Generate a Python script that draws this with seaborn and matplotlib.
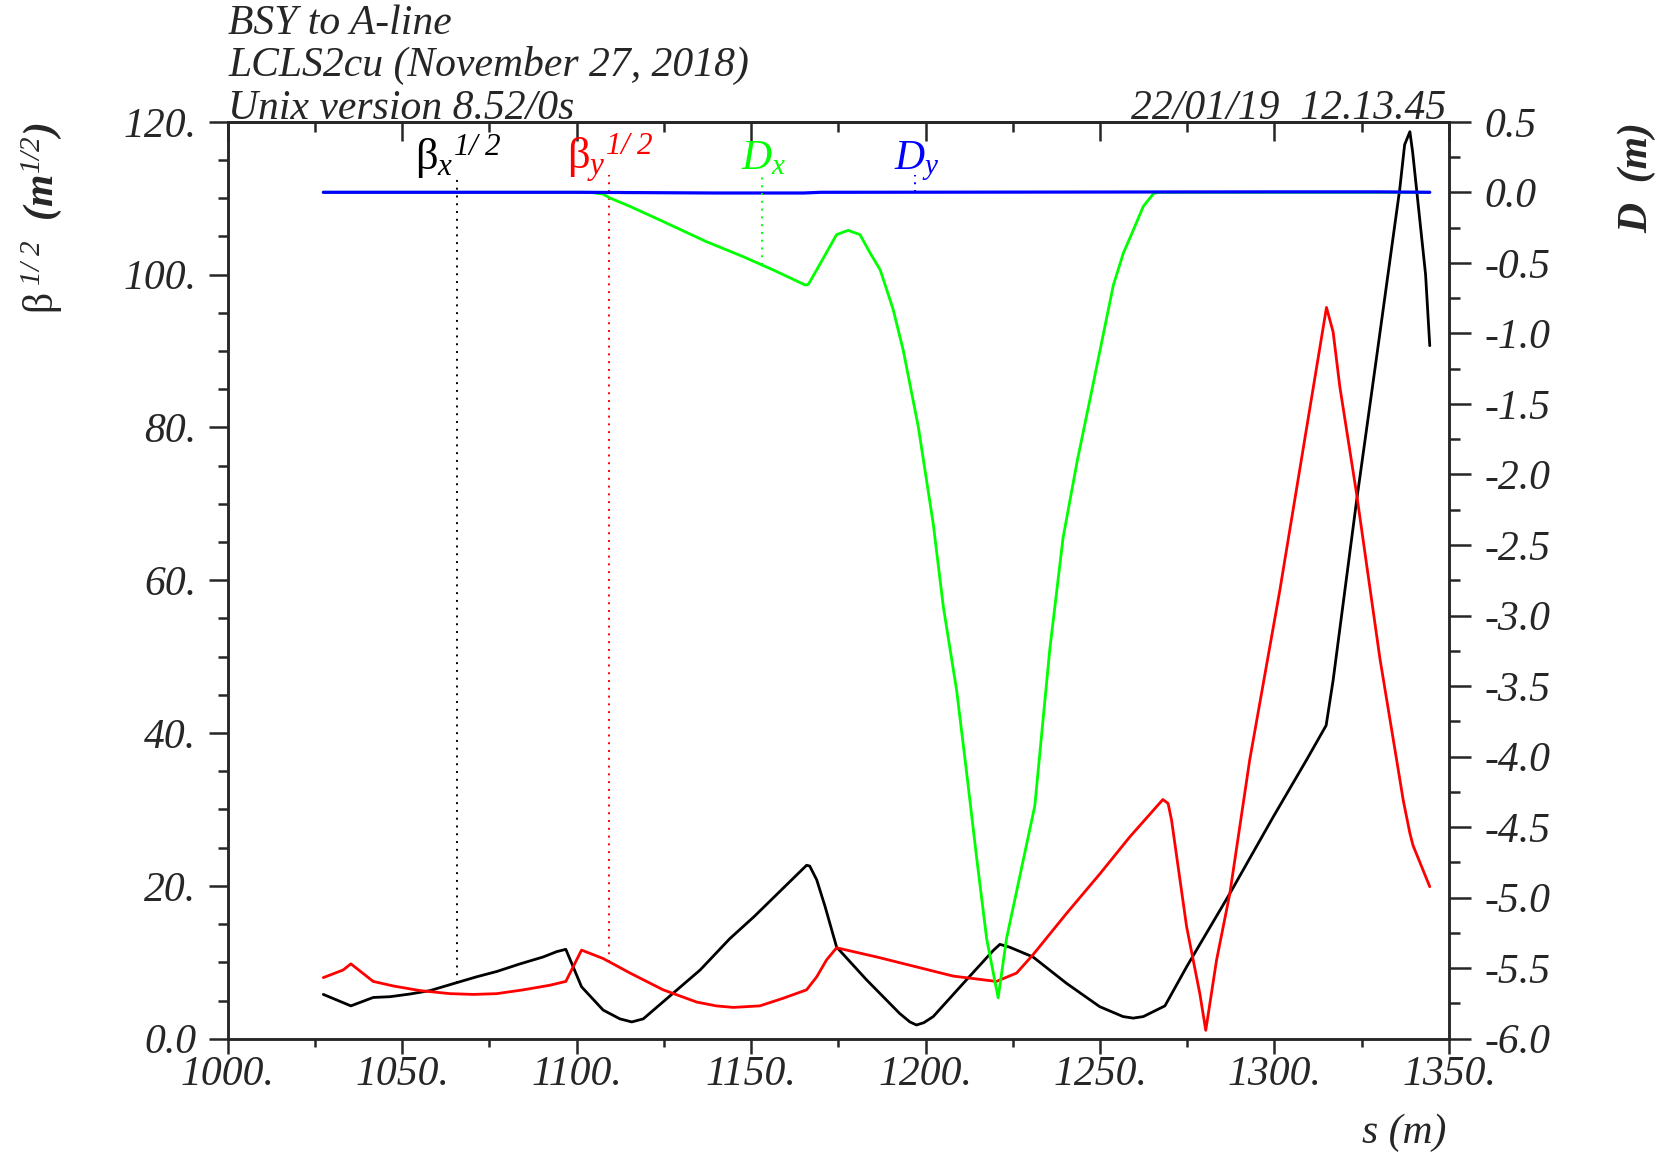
import numpy as np
import pandas as pd
import matplotlib
matplotlib.use("Agg")
import matplotlib.pyplot as plt
import seaborn as sns
from matplotlib.ticker import MultipleLocator, FuncFormatter

# beta_x^(1/2) along s
s_bx = [1027.4, 1035.3, 1041.7, 1046.5, 1052.2, 1058.0, 1064.6, 1071.3, 1077.1, 1083.8,
        1090.4, 1094.3, 1096.9, 1101.4, 1107.6, 1112.4, 1115.8, 1119.1, 1135.4, 1143.9,
        1150.9, 1165.9, 1166.8, 1168.8, 1171.2, 1174.5, 1183.1, 1192.6, 1195.5, 1197.4,
        1199.5, 1202.2, 1211.7, 1219.5, 1221.3, 1224.0, 1230.8, 1240.4, 1249.9, 1256.6,
        1259.5, 1262.4, 1268.6, 1274.8, 1287.2, 1299.6, 1309.2, 1314.8, 1316.8, 1323.5,
        1329.2, 1335.9, 1337.3, 1338.8, 1339.6, 1343.3, 1344.5]
bx = [5.8, 4.3, 5.4, 5.5, 5.85, 6.3, 7.2, 8.1, 8.8, 9.8,
      10.7, 11.4, 11.7, 6.8, 3.75, 2.6, 2.2, 2.6, 9.0, 13.1,
      16.0, 22.7, 22.6, 20.8, 17.3, 12.0, 7.7, 3.3, 2.2, 1.8,
      2.1, 2.9, 7.7, 11.6, 12.35, 12.0, 10.7, 7.25, 4.2, 2.9,
      2.7, 2.9, 4.3, 9.4, 19.0, 29.0, 36.5, 41.0, 46.9, 70.3,
      89.0, 111.2, 117.0, 118.7, 116.0, 100.0, 90.7]

# beta_y^(1/2) along s
s_by = [1027.4, 1033.1, 1035.3, 1041.7, 1047.5, 1055.1, 1063.7, 1070.4, 1077.1, 1084.7,
        1092.3, 1096.9, 1101.4, 1107.6, 1115.3, 1124.8, 1134.4, 1140.0, 1144.9, 1152.5,
        1159.2, 1165.9, 1168.8, 1171.6, 1174.5, 1186.0, 1197.4, 1207.9, 1220.3, 1226.1,
        1230.8, 1240.4, 1250.0, 1258.5, 1268.0, 1269.5, 1270.5, 1274.8, 1278.6, 1280.3,
        1283.4, 1287.2, 1292.9, 1301.5, 1314.9, 1316.8, 1318.7, 1323.5, 1330.2, 1335.0,
        1336.9, 1338.8, 1339.7, 1344.5]
by = [8.0, 9.0, 9.8, 7.5, 6.9, 6.3, 5.9, 5.8, 5.9, 6.4,
      7.0, 7.5, 11.6, 10.5, 8.6, 6.4, 4.8, 4.3, 4.1, 4.3,
      5.3, 6.4, 8.1, 10.3, 11.9, 10.7, 9.4, 8.2, 7.5, 8.6,
      11.0, 16.4, 21.6, 26.4, 31.3, 30.8, 28.6, 14.7, 5.9, 1.1,
      10.3, 19.0, 36.5, 58.6, 95.7, 92.5, 85.4, 71.4, 49.8, 36.5,
      31.2, 26.9, 25.3, 19.9]

# horizontal dispersion D_x (m)
s_dx = [1027.4, 1103.8, 1107.6, 1109.5, 1115.3, 1123.9, 1137.2, 1147.7, 1156.3, 1165.5,
        1166.4, 1168.8, 1174.5, 1177.8, 1181.2, 1184.1, 1187.0, 1190.7, 1193.6, 1197.9,
        1202.2, 1205.1, 1208.9, 1211.8, 1214.6, 1217.5, 1220.8, 1223.2, 1231.3, 1235.6,
        1239.4, 1243.5, 1247.1, 1250.0, 1253.8, 1256.7, 1259.5, 1262.4, 1265.3, 1266.7,
        1344.5]
dx = [0.0, 0.0, -0.013, -0.04, -0.10, -0.197, -0.35, -0.456, -0.55, -0.657,
      -0.653, -0.55, -0.30, -0.27, -0.30, -0.43, -0.55, -0.83, -1.12, -1.66,
      -2.35, -2.94, -3.53, -4.12, -4.71, -5.29, -5.71, -5.29, -4.35, -3.24,
      -2.45, -1.90, -1.47, -1.12, -0.66, -0.43, -0.27, -0.10, -0.01, 0.0,
      0.0]

# vertical dispersion D_y (m)
s_dy = [1027.4, 1100.0, 1140.0, 1165.0, 1170.0, 1300.0, 1330.0, 1344.5]
dy = [0.0, 0.0, -0.005, -0.005, 0.0, 0.003, 0.003, 0.0]

# label positions along s
s_lab = [1065.6, 1109.3, 1153.2, 1197.0]

sns.set_style("ticks")
plt.rcParams["font.family"] = ["Liberation Serif", "DejaVu Serif"]
plt.rcParams["font.style"] = "italic"
plt.rcParams["mathtext.fontset"] = "custom"
plt.rcParams["mathtext.rm"] = "Liberation Serif:italic"
plt.rcParams["mathtext.it"] = "Liberation Serif:italic"
plt.rcParams["mathtext.sf"] = "Liberation Serif:roman"
plt.rcParams["mathtext.bf"] = "Liberation Serif:bold:italic"
plt.rcParams["axes.linewidth"] = 1.8

FS = 30
LW = 2.0

fig, ax = plt.subplots(figsize=(16.67, 11.53), dpi=100)
fig.subplots_adjust(left=0.1366, right=0.8692, bottom=0.0991, top=0.8944)
ax2 = ax.twinx()

sns.lineplot(data=pd.DataFrame({"s": s_bx, "v": bx}), x="s", y="v", ax=ax,
             color="black", lw=LW, sort=False, estimator=None)
sns.lineplot(data=pd.DataFrame({"s": s_by, "v": by}), x="s", y="v", ax=ax,
             color="#ff0000", lw=LW, sort=False, estimator=None)
sns.lineplot(data=pd.DataFrame({"s": s_dx, "v": dx}), x="s", y="v", ax=ax2,
             color="#00ff00", lw=LW, sort=False, estimator=None)
sns.lineplot(data=pd.DataFrame({"s": s_dy, "v": dy}), x="s", y="v", ax=ax2,
             color="#0000ff", lw=LW + 0.3, sort=False, estimator=None)

ax.set_xlim(1000, 1350)
ax.set_ylim(0, 120)
ax2.set_ylim(-6.0, 0.5)
for a in (ax, ax2):
    a.set_xlabel("")
    a.set_ylabel("")

# dotted markers under the curve labels
dot = (0, (1, 3))
ax.vlines(s_lab[0], np.interp(s_lab[0], s_bx, bx), 113, colors="black", linestyles=dot, lw=1.4)
ax.vlines(s_lab[1], np.interp(s_lab[1], s_by, by), 113, colors="#ff0000", linestyles=dot, lw=1.4)
ax2.vlines(s_lab[2], np.interp(s_lab[2], s_dx, dx), 0.122, colors="#00ff00", linestyles=dot, lw=1.4)
ax2.vlines(s_lab[3], np.interp(s_lab[3], s_dy, dy), 0.122, colors="#0000ff", linestyles=dot, lw=1.4)

ax.text(s_lab[0] - 12, 113.8, r"$\mathsf{\beta}_{x}{}^{1/\ 2}$", color="black", fontsize=FS + 2, va="baseline")
ax.text(s_lab[1] - 12, 113.8, r"$\mathsf{\beta}_{y}{}^{1/\ 2}$", color="#ff0000", fontsize=FS + 2, va="baseline")
ax.text(s_lab[2] - 6, 113.8, r"$D_{x}$", color="#00ff00", fontsize=FS, va="baseline")
ax.text(s_lab[3] - 6, 113.8, r"$D_{y}$", color="#0000ff", fontsize=FS, va="baseline")

# ticks
ax.xaxis.set_major_locator(MultipleLocator(50))
ax.xaxis.set_minor_locator(MultipleLocator(25))
ax.yaxis.set_major_locator(MultipleLocator(20))
ax.yaxis.set_minor_locator(MultipleLocator(5))
ax2.yaxis.set_major_locator(MultipleLocator(0.5))
ax2.yaxis.set_minor_locator(MultipleLocator(0.25))
ax.xaxis.set_major_formatter(FuncFormatter(lambda v, p: f"{int(round(v))}."))
ax.yaxis.set_major_formatter(FuncFormatter(lambda v, p: "0.0" if abs(v) < 1e-9 else f"{int(round(v))}."))
ax2.yaxis.set_major_formatter(FuncFormatter(lambda v, p: "0.0" if abs(v) < 1e-9 else f"{v:.1f}"))

ax.tick_params(axis="x", which="major", direction="out", length=11, width=1.8, pad=1, labelsize=FS, top=False)
ax.tick_params(axis="x", which="minor", direction="out", length=6, width=1.8, top=False)
ax.tick_params(axis="y", which="major", direction="out", length=14, width=1.8, pad=8.5, labelsize=FS, right=False)
ax.tick_params(axis="y", which="minor", direction="out", length=7, width=1.8, right=False)
ax2.tick_params(axis="y", which="major", direction="out", length=16, width=1.8, pad=9.5, labelsize=FS, left=False)
ax2.tick_params(axis="y", which="minor", direction="out", length=8, width=1.8, left=False)

top = ax.secondary_xaxis("top")
top.xaxis.set_major_locator(MultipleLocator(50))
top.xaxis.set_minor_locator(MultipleLocator(25))
top.tick_params(which="major", direction="in", length=14, width=1.8, labeltop=False)
top.tick_params(which="minor", direction="in", length=7, width=1.8)
top.spines["top"].set_linewidth(1.8)

# header and axis titles
x0 = 0.137
fig.text(x0, 0.9705, "BSY to A-line", fontsize=FS, va="baseline", ha="left")
fig.text(x0, 0.9337, "LCLS2cu (November 27, 2018)", fontsize=FS, va="baseline", ha="left")
fig.text(x0, 0.8968, "Unix version 8.52/0s", fontsize=FS, va="baseline", ha="left")
fig.text(0.8674, 0.8968, "22/01/19  12.13.45", fontsize=FS, va="baseline", ha="right")
fig.text(0.8674, 0.0173, "s (m)", fontsize=FS, va="center", ha="right")
fig.text(0.025, 0.894, r"$\mathsf{\beta}^{\ 1/\ 2}\ \ \mathbf{(m}^{1/2}\mathbf{)}$", fontsize=FS,
         rotation=90, va="top", ha="center")
fig.text(0.982, 0.894, "D  (m)", fontsize=FS, fontweight="bold", rotation=90, va="top", ha="center")

fig.savefig("out.png", dpi=100)
